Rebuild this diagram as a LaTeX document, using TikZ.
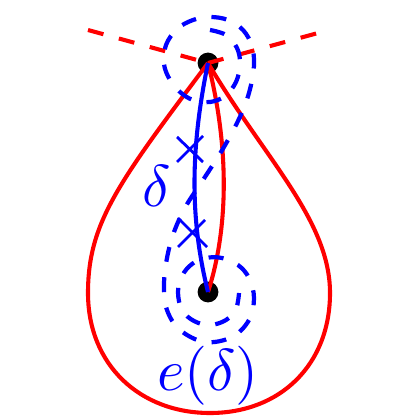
\documentclass[tikz,border=0pt]{standalone}
\begin{document}
\begin{tikzpicture}[x=0.025cm,y=-0.025cm,
  thickline/.style={line width=2.9pt,line join=round},
  dashred/.style={red,line width=2.9pt,dash pattern=on 0.4cm off 0.4cm},
  dashblue/.style={blue,line width=3pt,dash pattern=on 0.375cm off 0.39cm},
  pt/.style={circle,fill=black,inner sep=0pt,minimum size=0.52cm},
  crossmark/.style={blue,line width=2pt},
  lbl/.style={blue,inner sep=0pt,scale=4.2}]
\useasboundingbox (0,0) rectangle (420,420);

\node[pt] (P) at (208,63) {};
\node[pt] (Q) at (208,292) {};
\coordinate (L) at (88,30);
\coordinate (R) at (318,33);

% red dashed rays
\draw[dashred] (L) -- (P.center);
\draw[dashred] (P.center) -- (R);

% red teardrop
\draw[red,thickline] (P.center) .. controls (118,183) and (88,223) .. (88,293)
  .. controls (88,365) and (140,413) .. (210,413)
  .. controls (280,413) and (330,365) .. (330,293)
  .. controls (330,220) and (264,158) .. (P.center);

% red arc P-Q
\draw[red,thickline] (P.center) .. controls (230,150) and (228,230) .. (Q.center);

% blue dashed spiral e(delta)
\draw[dashblue] plot[smooth,tension=0.6] coordinates {
 (210,30) (226,35) (237,48) (240,64) (236,82) (225,96) (210,102) (193,100)
 (180,92) (170,80) (164,64) (166,45) (177,29) (193,20) (210,17) (228,20)
 (243,30) (252,46) (254,65) (251,85) (245,105) (235,127) (221,152) (203,180)
 (186,206) (174,232) (167,258) (164,285) (167,310) (180,330) (205,342)
 (232,337) (249,320) (254,298) (249,278) (238,265) (222,258) (206,258)
 (192,264) (182,276) (178,292) (182,310) (194,321) (210,325) (226,320)
 (236,309) (239,293)};

% blue arc delta
\draw[blue,thickline] (P.center) .. controls (190,150) and (190,220) .. (Q.center);

% cross marks on delta
\draw[crossmark] (177,137) -- (203,162) (177,162) -- (203,136);
\draw[crossmark] (178,218) -- (207,247) (178,247) -- (205,220);

% labels
\node[lbl,anchor=base] (dl) at (157,206) {$\delta$};
\node[lbl,anchor=base] (el) at (208,390) {$e(\delta)$};
\end{tikzpicture}
\end{document}
